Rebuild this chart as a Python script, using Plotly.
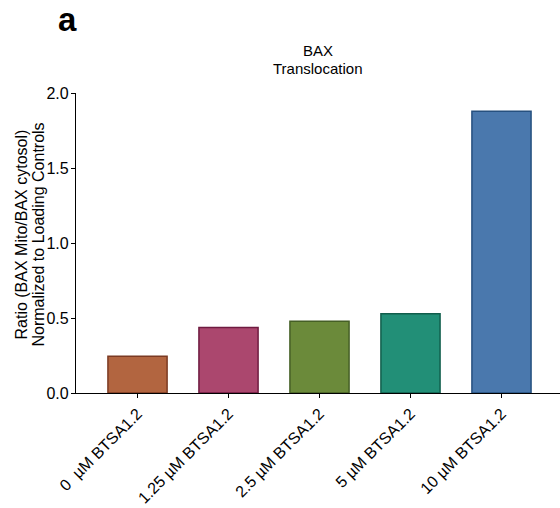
import plotly.graph_objects as go

categories = ["0\u00a0 µM BTSA1.2", "1.25 µM BTSA1.2", "2.5 µM BTSA1.2", "5 µM BTSA1.2", "10 µM BTSA1.2"]
values = [0.245, 0.437, 0.478, 0.529, 1.879]
fill_colors = ["#B26540", "#AB476E", "#6B8A3A", "#228F77", "#4A78AD"]
line_colors = ["#7B3A22", "#6F1B40", "#455F25", "#115E4C", "#26507F"]
y_ticks = [0.0, 0.5, 1.0, 1.5, 2.0]
y_tick_labels = ["0.0", "0.5", "1.0", "1.5", "2.0"]

FONT = "Arial, Liberation Sans, Helvetica, sans-serif"

fig = go.Figure(go.Bar(
    x=categories, y=values, width=0.65,
    marker=dict(color=fill_colors, line=dict(color=line_colors, width=1.5)),
))

L, T, PH, PW = 76, 93, 300, 484

def px_x(x):
    return (x - L) / PW

def px_y(y):
    return (T + PH - y) / PH

annotations = [
    dict(text="<b>a</b>", x=px_x(55.5), y=px_y(19), xanchor="left", yanchor="middle",
         font=dict(size=33, color="black", family=FONT)),
    dict(text="BAX", x=0.5, y=px_y(50.8), xanchor="center", yanchor="middle",
         font=dict(size=15, color="black", family=FONT)),
    dict(text="Translocation", x=0.5, y=px_y(69), xanchor="center", yanchor="middle",
         font=dict(size=15, color="black", family=FONT)),
    dict(text="Ratio (BAX Mito/BAX cytosol)", x=px_x(20.5), y=px_y(235), textangle=-90,
         xanchor="center", yanchor="middle", font=dict(size=16, color="black", family=FONT)),
    dict(text="Normalized to Loading Controls", x=px_x(37.5), y=px_y(235), textangle=-90,
         xanchor="center", yanchor="middle", font=dict(size=16, color="black", family=FONT)),
]
for a in annotations:
    a.update(xref="paper", yref="paper", showarrow=False)

fig.update_layout(
    width=560, height=508,
    margin=dict(l=L, r=0, t=T, b=508 - T - PH, pad=0),
    paper_bgcolor="white", plot_bgcolor="white",
    showlegend=False,
    font=dict(family=FONT, size=16, color="black"),
    annotations=annotations,
    xaxis=dict(type="category", range=[-0.676, 4.643], showline=True, linecolor="black",
               linewidth=1.3, ticks="outside", ticklen=4, tickcolor="black", tickwidth=1,
               tickangle=-45, tickfont=dict(size=16, family=FONT), showgrid=False,
               zeroline=False, automargin=False),
    yaxis=dict(range=[0, 2], showline=True, linecolor="black", linewidth=1.3,
               ticks="outside", ticklen=4, tickcolor="black", tickwidth=1,
               tickvals=y_ticks, ticktext=y_tick_labels, tickfont=dict(size=16, family=FONT),
               ticklabelstandoff=-1, showgrid=False, zeroline=False, automargin=False),
)

fig.write_html(
    "out.html",
    config={"displayModeBar": False},
    post_script="document.body.style.margin='0';document.body.style.padding='0';document.body.style.overflow='hidden';",
)
